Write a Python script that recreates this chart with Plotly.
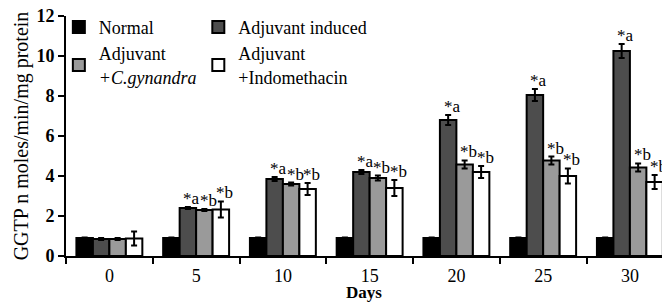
import plotly.graph_objects as go

days = ["0", "5", "10", "15", "20", "25", "30"]

normal = [0.90, 0.90, 0.90, 0.90, 0.90, 0.90, 0.90]
normal_err = [0.03, 0.03, 0.03, 0.03, 0.03, 0.03, 0.03]

adjuvant = [0.85, 2.40, 3.85, 4.20, 6.80, 8.05, 10.25]
adjuvant_err = [0.05, 0.05, 0.10, 0.10, 0.25, 0.30, 0.35]

gynandra = [0.85, 2.30, 3.60, 3.90, 4.58, 4.77, 4.43]
gynandra_err = [0.05, 0.05, 0.07, 0.12, 0.20, 0.20, 0.20]

indo = [0.88, 2.33, 3.35, 3.40, 4.20, 4.00, 3.70]
indo_err = [0.35, 0.40, 0.30, 0.40, 0.30, 0.38, 0.35]

adjuvant_sig = ["", "*a", "*a", "*a", "*a", "*a", "*a"]
gynandra_sig = ["", "*b", "*b", "*b", "*b", "*b", "*b"]
indo_sig = ["", "*b", "*b", "*b", "*b", "*b", "*b"]

FONT = "Liberation Serif"
BARGAP = 0.24

series = [
    ("Normal", normal, normal_err, "#000000", "legend", None),
    ("Adjuvant induced", adjuvant, adjuvant_err, "#4d4d4d", "legend2", adjuvant_sig),
    ("Adjuvant<br><i>+C.gynandra</i>", gynandra, gynandra_err, "#9a9a9a", "legend", gynandra_sig),
    ("Adjuvant<br>+Indomethacin", indo, indo_err, "#ffffff", "legend2", indo_sig),
]

fig = go.Figure()
n = len(series)
bw = (1 - BARGAP) / n
annotations = []
for k, (name, vals, errs, color, leg, sig) in enumerate(series):
    fig.add_trace(go.Bar(
        name=name, x=days, y=vals,
        marker=dict(color=color, line=dict(color="#000000", width=2)),
        error_y=dict(type="data", array=errs, color="#000000", thickness=2, width=3),
        legend=leg,
    ))
    if sig:
        off = -(1 - BARGAP) / 2 + bw * (k + 0.5)
        for i, s in enumerate(sig):
            if s:
                annotations.append(dict(
                    x=i + off, y=vals[i] + errs[i], xref="x", yref="y",
                    text=s, showarrow=False, xanchor="center", yanchor="bottom",
                    xshift=4, yshift=-3,
                    font=dict(family=FONT, size=17, color="rgb(0,0,0)"),
                ))

fig.update_layout(
    width=662, height=302,
    margin=dict(l=66, r=0, t=16, b=46, autoexpand=False),
    paper_bgcolor="#ffffff", plot_bgcolor="#ffffff",
    barmode="group", bargap=BARGAP, bargroupgap=0,
    font=dict(family=FONT, size=18, color="#000000"),
    annotations=annotations,
    legend=dict(x=-0.012, y=1.03, xanchor="left", yanchor="top",
                bgcolor="rgba(0,0,0,0)", font=dict(family=FONT, size=18),
                tracegroupgap=0, itemwidth=30),
    legend2=dict(x=0.222, y=1.03, xanchor="left", yanchor="top",
                 bgcolor="rgba(0,0,0,0)", font=dict(family=FONT, size=18),
                 tracegroupgap=0, itemwidth=30),
    xaxis=dict(
        type="category", range=[-0.5, 6.37], tickson="boundaries", automargin=False,
        ticks="outside", ticklen=6, tickwidth=2, tickcolor="#000000",
        showline=True, linewidth=2, linecolor="#000000", showgrid=False,
        tickfont=dict(family=FONT, size=18, color="#000000"),
        ticklabelstandoff=2,
        title=dict(text="<b>Days</b>", font=dict(family=FONT, size=17), standoff=6),
    ),
    yaxis=dict(
        range=[0, 12], dtick=2, ticks="outside", ticklen=6, tickwidth=2, automargin=False,
        tickcolor="#000000", showline=True, linewidth=2, linecolor="#000000",
        showgrid=False, zeroline=False,
        tickfont=dict(family=FONT, size=18, color="#000000", weight="bold"),
        title=dict(text="GGTP n moles/min/mg protein", font=dict(family=FONT, size=20), standoff=2),
    ),
)

fig.write_html("out.html", config={"displayModeBar": False},
               post_script="document.body.style.margin='0';")
